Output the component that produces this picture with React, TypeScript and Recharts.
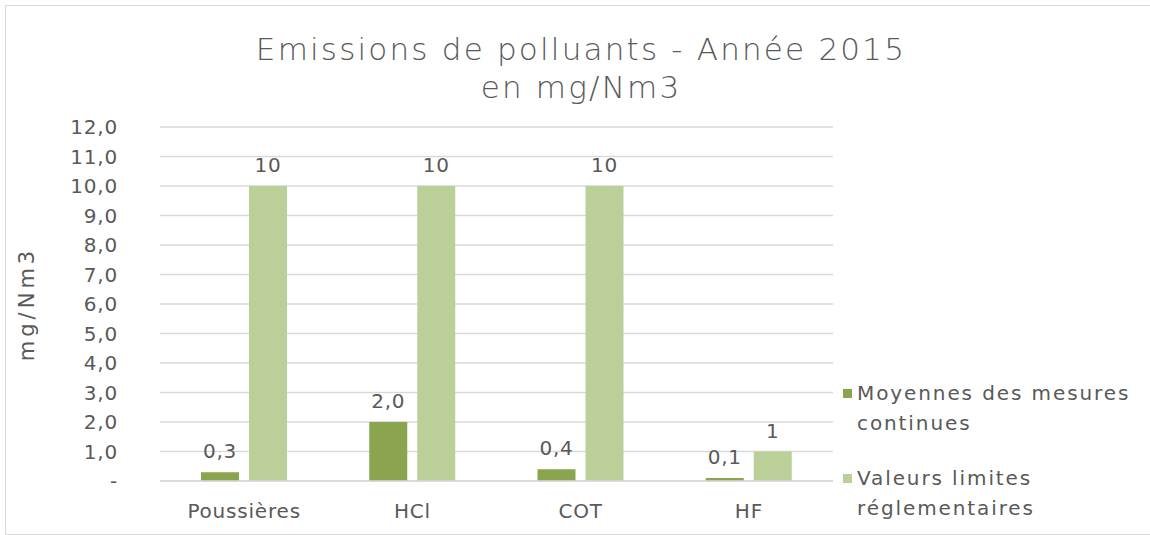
import { BarChart, Bar, XAxis, YAxis, CartesianGrid, LabelList, Label } from "recharts";

const categories = ["Poussières", "HCl", "COT", "HF"];
const moyennes = [0.3, 2.0, 0.4, 0.1];
const limites = [10, 10, 10, 1];
const yTicks = [0, 1, 2, 3, 4, 5, 6, 7, 8, 9, 10, 11, 12];

const seriesNames = ["Moyennes des mesures continues", "Valeurs limites réglementaires"];
const legendLines = [
  ["Moyennes des mesures", "continues"],
  ["Valeurs limites", "réglementaires"],
];
const colors = ["#8AA54D", "#BBCF98"];

const FONT = "'DejaVu Sans', sans-serif";
const TEXT = "#595959";

const data = categories.map((name, i) => ({
  name,
  moyenne: moyennes[i],
  limite: limites[i],
}));

const fmtTick = (v: number) => (v === 0 ? "-" : v.toFixed(1).replace(".", ","));
const fmtMoy = (v: any) => Number(v).toFixed(1).replace(".", ",");

const textStyle = { fill: TEXT, fontSize: 20, fontFamily: FONT, letterSpacing: 0.8 };

// legend drawn as plain html next to the plot, Recharts' Legend would eat plot space
function LegendBox() {
  return (
    <div
      style={{
        position: "absolute",
        left: 843,
        top: 378,
        fontFamily: FONT,
        fontSize: 20,
        letterSpacing: 1.9,
        color: TEXT,
        lineHeight: "30px",
        whiteSpace: "nowrap",
      }}
    >
      {legendLines.map((l, i) => (
        <div key={i} title={seriesNames[i]} style={{ position: "relative", paddingLeft: 14, marginBottom: i === 0 ? 25 : 0 }}>
          <span
            style={{
              position: "absolute",
              left: 0,
              top: 11,
              width: 9,
              height: 9,
              background: colors[i],
            }}
          />
          <div>{l[0]}</div>
          <div>{l[1]}</div>
        </div>
      ))}
    </div>
  );
}

export default function App() {
  return (
    <div style={{ position: "absolute", left: 0, top: 0, width: 1150, height: 535, background: "#fff", overflow: "hidden" }}>
      <div
        style={{
          position: "absolute",
          left: 5,
          top: 5,
          width: 1160,
          height: 530,
          border: "1px solid #d9d9d9",
          boxSizing: "border-box",
        }}
      />
      <div
        style={{
          position: "absolute",
          left: 0,
          top: 30,
          width: 1162,
          textAlign: "center",
          fontFamily: FONT,
          fontSize: 31,
          fontWeight: 300,
          letterSpacing: 2.2,
          lineHeight: "38px",
          color: TEXT,
        }}
      >
        <div>Emissions de polluants - Année 2015</div>
        <div>en mg/Nm3</div>
      </div>
      <BarChart
        width={1150}
        height={535}
        data={data}
        margin={{ top: 127, right: 317, bottom: 0, left: 0 }}
        barGap={10}
        barSize={38}
        style={{ position: "absolute", left: 0, top: 0 }}
      >
        <CartesianGrid vertical={false} stroke="#d9d9d9" strokeWidth={1.5} />
        <XAxis
          dataKey="name"
          height={54}
          axisLine={{ stroke: "#d9d9d9", strokeWidth: 1.5 }}
          tickLine={false}
          tickMargin={17}
          tick={textStyle}
        />
        <YAxis
          width={160}
          domain={[0, 12]}
          ticks={yTicks}
          interval={0}
          axisLine={false}
          tickLine={false}
          tickSize={8}
          tickMargin={34}
          tickFormatter={fmtTick}
          tick={textStyle}
        >
          <Label
            value="mg/Nm3"
            angle={-90}
            position="insideLeft"
            offset={27}
            style={{ ...textStyle, fontSize: 21, letterSpacing: 4, textAnchor: "middle" }}
          />
        </YAxis>
        <Bar dataKey="moyenne" name={seriesNames[0]} fill={colors[0]} isAnimationActive={false}>
          <LabelList dataKey="moyenne" position="top" offset={14} formatter={fmtMoy} style={textStyle} />
        </Bar>
        <Bar dataKey="limite" name={seriesNames[1]} fill={colors[1]} isAnimationActive={false}>
          <LabelList dataKey="limite" position="top" offset={14} style={textStyle} />
        </Bar>
      </BarChart>
      <LegendBox />
    </div>
  );
}
